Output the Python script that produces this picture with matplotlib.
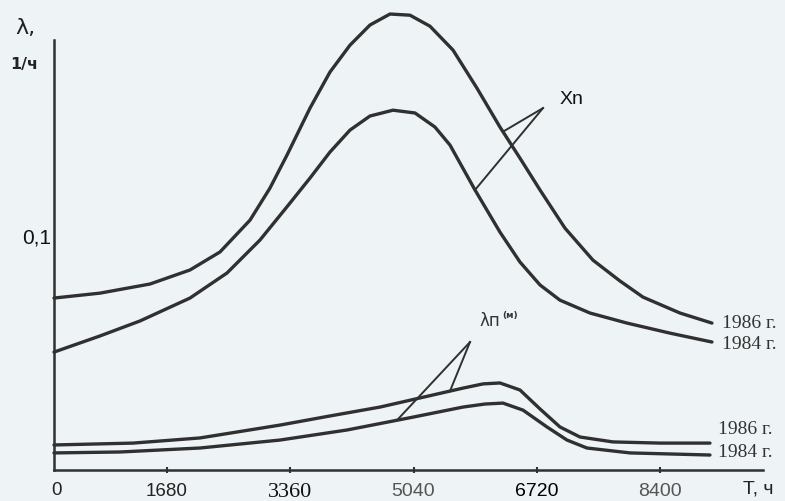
import numpy as np
import matplotlib
matplotlib.use("Agg")
import matplotlib.pyplot as plt

# наработка T, ч  и интенсивность отказов λ, 1/ч
t_up86 = [139, 766, 1448, 1993, 2402, 2811, 3083, 3315, 3629, 3901, 4174, 4446, 4719,
          4992, 5264, 5578, 5905, 6218, 6491, 6764, 7104, 7486, 7854, 8168, 8672, 9108]
lam_up86 = [0.0735, 0.0756, 0.0795, 0.0855, 0.0932, 0.1068, 0.1205, 0.1346, 0.1547,
            0.1701, 0.1816, 0.1902, 0.1949, 0.1944, 0.1897, 0.1795, 0.1632, 0.1466,
            0.1333, 0.1197, 0.1034, 0.0897, 0.0808, 0.0739, 0.0671, 0.0628]

t_up84 = [139, 766, 1311, 1993, 2497, 2947, 3356, 3629, 3901, 4174, 4446, 4760, 5060,
          5332, 5537, 5878, 6218, 6491, 6764, 7036, 7445, 7950, 8536, 9108]
lam_up84 = [0.0504, 0.0573, 0.0637, 0.0735, 0.0842, 0.0983, 0.1141, 0.1248, 0.1359,
            0.1453, 0.1513, 0.1538, 0.1526, 0.1466, 0.1389, 0.1197, 0.1017, 0.0889,
            0.0791, 0.0726, 0.0671, 0.0628, 0.0585, 0.0547]

# износовые отказы λп(м)
t_low86 = [139, 1216, 2129, 3220, 3901, 4583, 5128, 5714, 5987, 6218, 6491, 6764, 7036,
           7309, 7759, 8399, 9081]
lam_low86 = [0.0107, 0.0115, 0.0137, 0.0192, 0.0231, 0.0269, 0.0308, 0.0350, 0.0368,
             0.0372, 0.0342, 0.0261, 0.0184, 0.0141, 0.0120, 0.0115, 0.0115]

t_low84 = [139, 1039, 2129, 3220, 4133, 5033, 5714, 6014, 6259, 6532, 6859, 7132, 7404,
           7991, 9081]
lam_low84 = [0.0073, 0.0077, 0.0094, 0.0128, 0.0171, 0.0226, 0.0269, 0.0282, 0.0286,
             0.0256, 0.0184, 0.0128, 0.0094, 0.0073, 0.0064]

xticks = [1680, 3360, 5040, 6720, 8400]
xtick_labels = ["1680", "3360", "5040", "6720", "8400"]

bg = "#eef3f5"
ink = "#303030"

fig = plt.figure(figsize=(7.85, 5.01), dpi=100)
fig.patch.set_facecolor(bg)
ax = fig.add_axes([54 / 785, 31 / 501, 709 / 785, 430 / 501])
ax.set_facecolor("none")
ax.set_xlim(139, 9804)
ax.set_ylim(0, 0.1838)

for s in ["top", "right"]:
    ax.spines[s].set_visible(False)
for s in ["left", "bottom"]:
    ax.spines[s].set_linewidth(1.8)
    ax.spines[s].set_color(ink)

# кривые
kw = dict(color=ink, lw=2.4, clip_on=False, solid_joinstyle="round", solid_capstyle="round")
ax.plot(t_up86, lam_up86, **kw)
ax.plot(t_up84, lam_up84, **kw)
ax.plot(t_low86, lam_low86, **kw)
ax.plot(t_low84, lam_low84, **kw)

# оси: деления
ax.set_xticks(xticks, xtick_labels)
ax.tick_params(axis="x", direction="inout", length=5, width=1.5, color=ink, pad=7)
fonts = [("Liberation Sans", 13.5, "#222"), ("Liberation Serif", 16, "#111"),
         ("Liberation Sans", 14, "#555"), ("Liberation Sans", 14, "#000"),
         ("Liberation Sans", 14, "#555")]
for lab, (fam, sz, c) in zip(ax.get_xticklabels(), fonts):
    lab.set_fontfamily(fam)
    lab.set_fontsize(sz)
    lab.set_color(c)

ax.set_yticks([0.1], ["0,1"])
ax.tick_params(axis="y", length=0, pad=2)
for lab in ax.get_yticklabels():
    lab.set_fontfamily("Liberation Sans")
    lab.set_fontsize(15)
    lab.set_color("#111")

ax.text(0.004, -0.047, "0", transform=ax.transAxes, ha="center", va="center",
        fontsize=13.5, family="Liberation Sans", color="#222")
ax.text(0.993, -0.045, "T, ч", transform=ax.transAxes, ha="center", va="center",
        fontsize=14, family="Liberation Sans", color="#222")

fig.text(25 / 785, 1 - 28 / 501, "λ,", ha="center", va="center", fontsize=16,
         family="DejaVu Sans", color="#222")
fig.text(24 / 785, 1 - 64 / 501, "1/ч", ha="center", va="center", fontsize=11.5,
         family="DejaVu Sans", weight="bold", color="#222")

# подписи годов
yr = dict(fontsize=14, family="Liberation Serif", color="#333", va="center", ha="left",
          textcoords="offset points", annotation_clip=False)
ax.annotate("1986 г.", (t_up86[-1], lam_up86[-1]), xytext=(7, 0), **yr)
ax.annotate("1984 г.", (t_up84[-1], lam_up84[-1]), xytext=(7, -1.5), **yr)
ax.annotate("1986 г.", (t_low86[-1], lam_low86[-1]), xytext=(6, 9.5), **yr)
ax.annotate("1984 г.", (t_low84[-1], lam_low84[-1]), xytext=(6, 2), **yr)

# выноска Xn
tip = (6805, 0.1547)
for tt, tx, ty in [(6259, t_up86, lam_up86), (5878, t_up84, lam_up84)]:
    ax.plot([tip[0], tt], [tip[1], np.interp(tt, tx, ty)], color=ink, lw=1.4, clip_on=False)
ax.text(7200, 0.1585, "Xn", fontsize=14, family="Liberation Sans", color="#111",
        ha="center", va="center")

# выноска λп(м)
tip = (5810, 0.0547)
for tt, tx, ty in [(5537, t_low86, lam_low86), (4814, t_low84, lam_low84)]:
    ax.plot([tip[0], tt], [tip[1], np.interp(tt, tx, ty)], color=ink, lw=1.4)
ax.text(5940, 0.0635, "λп", fontsize=12, family="DejaVu Sans", color="#333",
        ha="left", va="center")
ax.text(6250, 0.0660, "(м)", fontsize=6.5, family="DejaVu Sans", weight="bold",
        color="#333", ha="left", va="center")

fig.savefig("out.png", dpi=100, facecolor=bg)
